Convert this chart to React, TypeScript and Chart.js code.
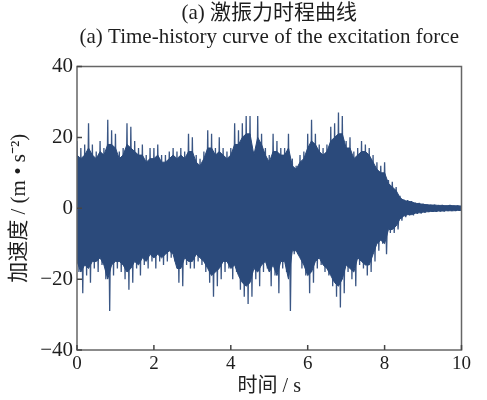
import { useEffect, useRef } from 'react';
import { Chart, registerables } from 'chart.js';

Chart.register(...registerables);

// Sampling step of the envelopes (s)
const timeStep = 0.1;

// Positive peaks per 0.1 s bin, t = 0 .. 10 s (m/s²)
const upperPeaks = [
  19, 17, 18, 24, 18, 16, 19, 17, 25, 22, 21, 16, 17, 24, 23, 19, 17, 18, 15, 17,
  17, 18, 15, 15, 16, 17, 16, 17, 16, 21, 20, 15, 14, 16, 22, 21, 17, 20, 17, 16,
  17, 24, 22, 24, 26, 26, 16, 26, 21, 17, 15, 21, 19, 17, 17, 21, 14, 12, 15, 16,
  21, 25, 21, 18, 17, 18, 23, 24, 27, 26, 19, 20, 16, 17, 19, 18, 17, 15, 13, 12,
  13, 8, 7.5, 6, 3.5, 2.5, 2.3, 2, 1.6, 1.5, 1.3, 1.1, 1.0, 1.0, 0.9, 0.9, 0.8, 0.9, 0.8, 0.8,
  0.6,
];

// Negative peaks per 0.1 s bin (m/s²)
const lowerPeaks = [
  -18, -24, -19, -21, -17, -18, -16, -20, -29, -19, -17, -18, -20, -23, -21, -17, -19, -16, -17, -15,
  -17, -15, -16, -15, -14, -15, -21, -22, -16, -17, -17, -15, -16, -18, -21, -25, -22, -20, -18, -17,
  -20, -18, -23, -25, -27, -25, -20, -22, -18, -17, -22, -19, -24, -17, -18, -29, -13, -13, -17, -19,
  -24, -21, -17, -16, -18, -19, -22, -25, -28, -24, -18, -20, -22, -16, -17, -19, -18, -15, -12, -10,
  -13, -7, -7, -6, -3.5, -2.5, -2, -2, -1.6, -1.5, -1.3, -1.1, -1, -1, -0.9, -0.9, -0.8, -0.8, -0.8, -0.7,
];

// Upper edge of the dense (solid) part of the signal per 0.1 s, t = 0 .. 10 s
const bodyUpper = [
  15, 14, 15, 17, 15, 14, 16, 15, 18, 18, 17, 14, 15, 18, 17, 16, 15, 15, 13, 14,
  14, 15, 13, 13, 14, 15, 14, 15, 14, 16, 16, 13, 12, 14, 17, 17, 15, 16, 15, 14,
  15, 18, 18, 20, 21, 21, 15, 20, 18, 15, 13, 16, 16, 15, 15, 17, 12, 11, 13, 14,
  17, 19, 18, 16, 15, 16, 19, 20, 21, 21, 17, 17, 14, 15, 16, 16, 15, 13, 11, 10,
  10, 7, 6, 5, 3, 2.2, 2, 1.8, 1.4, 1.3, 1.1, 1.0, 0.9, 0.9, 0.8, 0.8, 0.7, 0.8, 0.7, 0.7,
  0.6,
];

// Lower edge of the dense (solid) part of the signal per 0.1 s
const bodyLower = [
  -15, -18, -16, -17, -15, -15, -14, -16, -20, -16, -15, -15, -16, -18, -17, -15, -16, -14, -15, -13,
  -14, -13, -14, -13, -12, -13, -17, -17, -14, -15, -15, -13, -14, -15, -17, -19, -18, -17, -15, -15,
  -17, -16, -19, -21, -22, -21, -17, -18, -16, -15, -18, -16, -19, -15, -15, -20, -12, -12, -14, -16,
  -19, -18, -15, -14, -16, -17, -19, -21, -22, -20, -16, -17, -18, -14, -15, -16, -16, -13, -10, -9,
  -10, -6, -6, -5, -3, -2.2, -1.8, -1.8, -1.4, -1.3, -1.1, -1, -0.9, -0.9, -0.8, -0.8, -0.7, -0.7, -0.7, -0.6,
  -0.6,
];

const xTicks = [0, 2, 4, 6, 8, 10];
const yTicks = [-40, -20, 0, 20, 40];

const titleCn = '(a) 激振力时程曲线';
const titleEn = '(a) Time-history curve of the excitation force';
const xTitle = '时间 / s';
const yTitle = '加速度 / (m • s⁻²)';

const serif = "'Liberation Serif', 'Times New Roman', 'Noto Sans CJK SC', serif";
const lineColor = '#2b4a7b';
const spikeColor = '#3a5684';
const textColor = '#1e1e1e';
const frameColor = '#666666';

export default function App() {
  const canvasRef = useRef<HTMLCanvasElement | null>(null);

  useEffect(() => {
    const canvas = canvasRef.current;
    if (!canvas) return;

    const points: { x: number; y: number }[] = [];
    upperPeaks.forEach((u, i) => {
      points.push({ x: i * timeStep, y: u });
      if (i < lowerPeaks.length) {
        points.push({ x: i * timeStep + timeStep / 2, y: lowerPeaks[i] });
      }
    });
    const bodyTop = bodyUpper.map((v, i) => ({ x: i * timeStep, y: v }));
    const bodyBottom = bodyLower.map((v, i) => ({ x: i * timeStep, y: v }));

    const framePlugin = {
      id: 'frameAndTicks',
      afterDatasetsDraw(chart: any) {
        const { ctx, chartArea, scales } = chart;
        const { left, right, top, bottom } = chartArea;
        ctx.save();
        ctx.strokeStyle = frameColor;
        ctx.lineWidth = 1.5;
        ctx.strokeRect(left, top, right - left, bottom - top);
        ctx.strokeStyle = '#444444';
        ctx.lineWidth = 1.5;
        ctx.beginPath();
        xTicks.forEach((v) => {
          const px = scales.x.getPixelForValue(v);
          ctx.moveTo(px, bottom);
          ctx.lineTo(px, bottom - 5);
        });
        yTicks.forEach((v) => {
          const py = scales.y.getPixelForValue(v);
          ctx.moveTo(left, py);
          ctx.lineTo(left + 5, py);
        });
        ctx.stroke();
        ctx.restore();
      },
      afterDraw(chart: any) {
        const { ctx, chartArea } = chart;
        const cx = (chartArea.left + chartArea.right) / 2;
        ctx.save();
        ctx.fillStyle = textColor;
        ctx.textAlign = 'center';
        ctx.textBaseline = 'middle';
        ctx.font = `21px ${serif}`;
        ctx.fillText(titleCn, cx, 13);
        ctx.fillText(titleEn, cx, 37);
        ctx.restore();
      },
    };

    const chart = new Chart(canvas, {
      type: 'line',
      data: {
        datasets: [
          {
            data: bodyTop,
            borderWidth: 1,
            borderColor: lineColor,
            backgroundColor: lineColor,
            pointRadius: 0,
            tension: 0,
            fill: '+1',
          },
          {
            data: bodyBottom,
            borderWidth: 1,
            borderColor: lineColor,
            backgroundColor: lineColor,
            pointRadius: 0,
            tension: 0,
            fill: false,
          },
          {
            data: points,
            borderColor: spikeColor,
            borderWidth: 1.3,
            borderJoinStyle: 'bevel',
            pointRadius: 0,
            tension: 0,
            fill: false,
          },
        ],
      },
      options: {
        animation: false,
        responsive: true,
        maintainAspectRatio: false,
        parsing: false,
        normalized: true,
        layout: { padding: { top: 66.5, right: 25.5, left: 0, bottom: 0 } },
        plugins: {
          legend: { display: false },
          tooltip: { enabled: false },
          title: { display: false },
        },
        scales: {
          x: {
            type: 'linear',
            min: 0,
            max: 10,
            afterFit: (s: any) => {
              s.height = 50;
            },
            afterBuildTicks: (s: any) => {
              s.ticks = xTicks.map((v) => ({ value: v }));
            },
            ticks: {
              autoSkip: false,
              maxRotation: 0,
              color: textColor,
              padding: 3,
              font: { family: serif, size: 19 },
            },
            grid: { display: false, drawTicks: false },
            border: { display: false },
            title: {
              display: true,
              text: xTitle,
              color: textColor,
              font: { family: serif, size: 20 },
              padding: { top: 0, bottom: 1 },
            },
          },
          y: {
            type: 'linear',
            min: -40,
            max: 40,
            afterFit: (s: any) => {
              s.width = 77;
            },
            afterBuildTicks: (s: any) => {
              s.ticks = yTicks.map((v) => ({ value: v }));
            },
            ticks: {
              autoSkip: false,
              color: textColor,
              padding: 4,
              font: { family: serif, size: 21 },
              callback: (v: any) => String(v).replace('-', '−'),
            },
            grid: { display: false, drawTicks: false },
            border: { display: false },
            title: {
              display: true,
              text: yTitle,
              color: textColor,
              font: { family: serif, size: 21 },
              padding: { top: 7, bottom: 0 },
            },
          },
        },
      },
      plugins: [framePlugin],
    });

    return () => {
      chart.destroy();
    };
  }, []);

  return (
    <div style={{ position: 'absolute', left: 0, top: 0, width: 487, height: 400 }}>
      <canvas ref={canvasRef} />
    </div>
  );
}
